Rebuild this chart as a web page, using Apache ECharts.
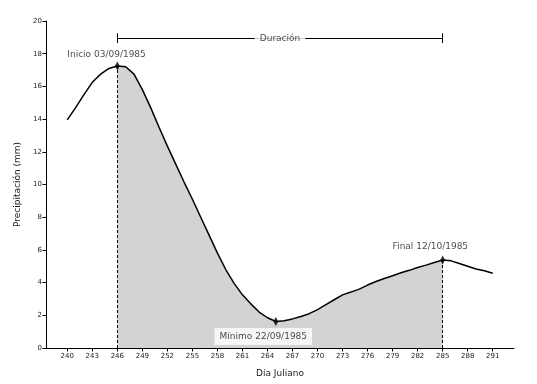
<!DOCTYPE html>
<html>
<head>
<meta charset="utf-8">
<script src="https://cdn.jsdelivr.net/npm/echarts@6/dist/echarts.min.js"></script>
<style>html,body{margin:0;padding:0;background:#fff;}#c{width:537px;height:384px;}</style>
</head>
<body>
<div id="c"></div>
<script>
// ---- data ----
const days = [240,241,242,243,244,245,246,247,248,249,250,251,252,253,254,255,256,257,258,259,260,261,262,263,264,265,266,267,268,269,270,271,272,273,274,275,276,277,278,279,280,281,282,283,284,285,286,287,288,289,290,291];
const precip = [13.95,14.7,15.5,16.25,16.75,17.1,17.25,17.2,16.75,15.8,14.7,13.5,12.35,11.25,10.15,9.1,8.0,6.9,5.8,4.8,3.95,3.25,2.7,2.2,1.85,1.62,1.67,1.78,1.93,2.1,2.35,2.65,2.95,3.25,3.42,3.6,3.85,4.07,4.25,4.42,4.6,4.75,4.92,5.07,5.23,5.38,5.33,5.17,5.0,4.83,4.72,4.57];
const xTicks = [240,243,246,249,252,255,258,261,264,267,270,273,276,279,282,285,288,291];
const startDay = 246, minDay = 265, endDay = 285;
const labelInicio = 'Inicio 03/09/1985';
const labelMinimo = 'Mínimo 22/09/1985';
const labelFinal = 'Final 12/10/1985';
const labelDuracion = 'Duración';
const durLevel = 18.95;

// ---- build ----
const val = d => precip[days.indexOf(d)];
const lineData = days.map((d, i) => [d, precip[i]]);
const fillData = lineData.filter(p => p[0] >= startDay && p[0] <= endDay);
const markers = [startDay, minDay, endDay].map(d => [d, val(d)]);
const FONT = 'DejaVu Sans';
const TXT = '#1a1a1a';

const chart = echarts.init(document.getElementById('c'), null, {renderer: 'canvas'});
chart.setOption({
  animation: false,
  backgroundColor: '#ffffff',
  grid: {left: 46, right: 23, top: 21, bottom: 36, containLabel: false},
  xAxis: {
    type: 'value', min: 237.45, max: 293.55,
    name: 'Día Juliano', nameLocation: 'middle', nameGap: 21,
    nameTextStyle: {fontFamily: FONT, fontSize: 9, color: TXT},
    axisLine: {lineStyle: {color: '#000', width: 1}},
    axisTick: {show: true, length: 3.5, lineStyle: {color: '#000'}, customValues: xTicks},
    axisLabel: {fontFamily: FONT, fontSize: 7, color: TXT, margin: 5, customValues: xTicks},
    splitLine: {show: false}
  },
  yAxis: {
    type: 'value', min: 0, max: 20, interval: 2,
    name: 'Precipitación (mm)', nameLocation: 'middle', nameGap: 24, nameRotate: 90,
    nameTextStyle: {fontFamily: FONT, fontSize: 9, color: TXT},
    axisLine: {show: true, lineStyle: {color: '#000', width: 1}},
    axisTick: {show: true, length: 3.5, lineStyle: {color: '#000'}},
    axisLabel: {fontFamily: FONT, fontSize: 7, color: TXT, margin: 4},
    splitLine: {show: false}
  },
  series: [
    {
      type: 'line', data: fillData, symbol: 'none', silent: true, z: 1,
      lineStyle: {width: 0, opacity: 0},
      areaStyle: {color: '#d3d3d3', opacity: 1}
    },
    {
      type: 'line', data: lineData, symbol: 'none', silent: true, z: 3,
      lineStyle: {color: '#000', width: 1.5},
      markLine: {
        silent: true, symbol: 'none', label: {show: false},
        data: [
          [{coord: [startDay, 0], lineStyle: {type: [3, 2], width: 1, color: '#000'}}, {coord: [startDay, val(startDay)]}],
          [{coord: [endDay, 0], lineStyle: {type: [3, 2], width: 1, color: '#000'}}, {coord: [endDay, val(endDay)]}],
          [{coord: [startDay, durLevel], lineStyle: {type: 'solid', width: 1, color: '#000'}}, {coord: [endDay, durLevel]}],
          [{coord: [startDay, durLevel - 0.3], lineStyle: {type: 'solid', width: 1, color: '#000'}}, {coord: [startDay, durLevel + 0.3]}],
          [{coord: [endDay, durLevel - 0.3], lineStyle: {type: 'solid', width: 1, color: '#000'}}, {coord: [endDay, durLevel + 0.3]}]
        ]
      }
    },
    {
      type: 'scatter', data: markers, symbol: 'diamond', symbolSize: [5, 9], z: 5,
      itemStyle: {color: '#000'}, silent: true
    },
    {
      type: 'scatter', symbolSize: 0, silent: true, z: 6,
      label: {show: true, fontFamily: FONT, fontSize: 9, color: TXT},
      data: [
        {value: [240, 17.92], label: {position: 'right', distance: 0, formatter: labelInicio}},
        {value: [279, 6.2], label: {position: 'right', distance: 0, formatter: labelFinal}},
        {value: [263.5, 0.7], label: {position: 'inside', formatter: labelMinimo, backgroundColor: '#fff', padding: [4, 5, 4, 5]}},
        {value: [(startDay + endDay) / 2, durLevel], label: {position: 'inside', formatter: labelDuracion, backgroundColor: '#fff', padding: [2, 5]}}
      ]
    }
  ]
});
</script>
</body>
</html>
